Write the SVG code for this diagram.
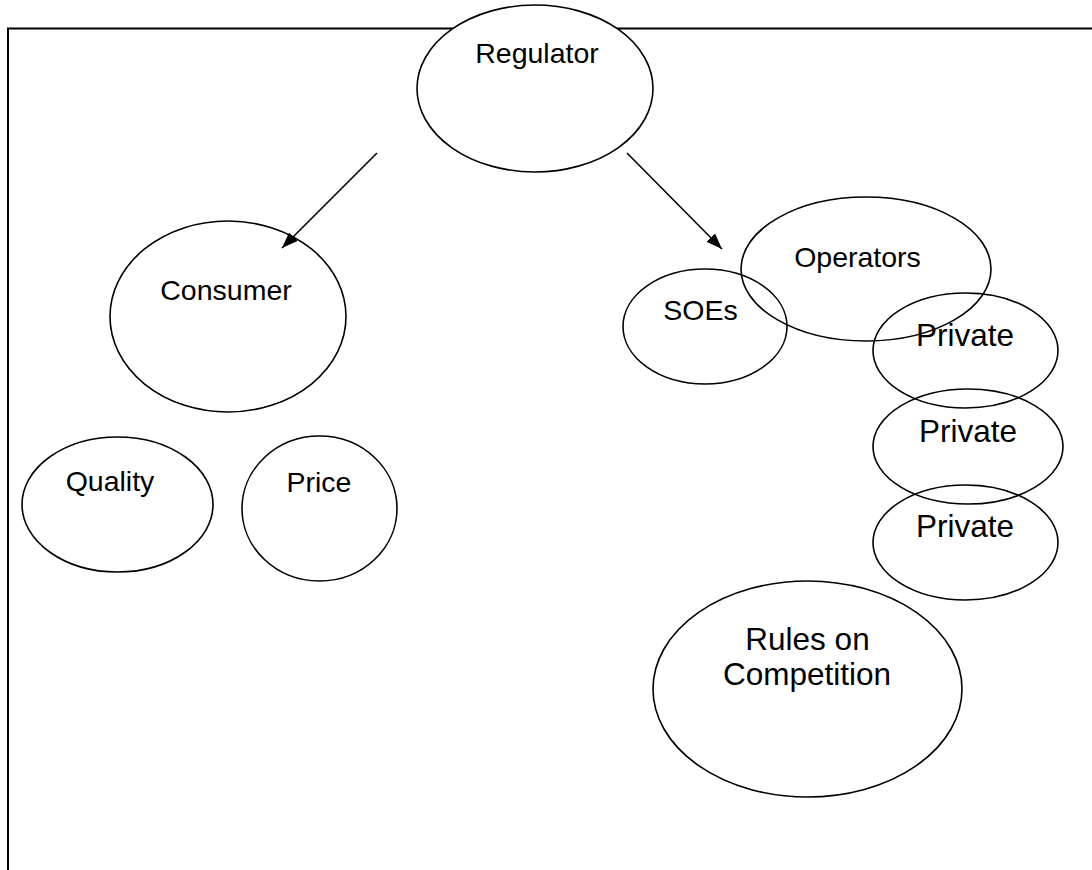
<svg xmlns="http://www.w3.org/2000/svg" width="1092" height="870" viewBox="0 0 1092 870">
<style>
.frame{stroke:#000;stroke-width:2;fill:none}
.node{stroke:#000;stroke-width:1.6;fill:none}
.filled{fill:#fff}
.lbl{font-family:"Liberation Sans",Arial,sans-serif;font-size:28.5px;fill:#000;text-anchor:middle}
.big{font-size:31.5px}
.conn{stroke:#000;stroke-width:1.6;fill:none}
</style>
<defs>
<marker id="arrow" viewBox="0 0 10 10" refX="10" refY="5" markerWidth="10" markerHeight="8" markerUnits="userSpaceOnUse" orient="auto">
<path d="M0,0 L10,5 L0,10 z" fill="#000"/>
</marker>
<marker id="ah" viewBox="0 0 16 12" refX="16" refY="6" markerWidth="16" markerHeight="12" markerUnits="userSpaceOnUse" orient="auto">
<path d="M0,0 L16,6 L0,12 z" fill="#000"/>
</marker>
</defs>
<rect width="1092" height="870" fill="#fff"/>
<g id="frame">
<path class="frame" d="M8,870 L8,28.5 L1092,28.5"/>
</g>
<g id="connectors">
<line class="conn" x1="377" y1="153" x2="282" y2="248" marker-end="url(#ah)"/>
<line class="conn" x1="627" y1="153" x2="722" y2="249" marker-end="url(#ah)"/>
</g>
<g id="regulator">
<ellipse class="node filled" cx="535" cy="88.5" rx="118" ry="83.5"/>
<text class="lbl" x="537" y="63">Regulator</text>
</g>
<g id="consumer">
<ellipse class="node" cx="228" cy="316.5" rx="118" ry="95.5"/>
<text class="lbl" x="226" y="300">Consumer</text>
</g>
<g id="quality">
<ellipse class="node" cx="117.5" cy="504.5" rx="95.5" ry="67.5"/>
<text class="lbl" x="110" y="491">Quality</text>
</g>
<g id="price">
<ellipse class="node" cx="319.5" cy="508.5" rx="77.5" ry="72.5"/>
<text class="lbl" x="319" y="492">Price</text>
</g>
<g id="soes">
<ellipse class="node" cx="705" cy="326.5" rx="82" ry="57.5"/>
<text class="lbl" x="700.5" y="320">SOEs</text>
</g>
<g id="operators">
<ellipse class="node" cx="866" cy="269" rx="125" ry="72"/>
<text class="lbl" x="857.5" y="266.5">Operators</text>
</g>
<g id="private1">
<ellipse class="node" cx="965.5" cy="350.5" rx="92.5" ry="57.5"/>
<text class="lbl big" x="965" y="345.5">Private</text>
</g>
<g id="private2">
<ellipse class="node" cx="968" cy="446.5" rx="95" ry="57.5"/>
<text class="lbl big" x="968" y="441.5">Private</text>
</g>
<g id="private3">
<ellipse class="node" cx="965.5" cy="542.5" rx="92.5" ry="57.5"/>
<text class="lbl big" x="965" y="537">Private</text>
</g>
<g id="rules">
<ellipse class="node" cx="807.5" cy="689" rx="154.5" ry="108"/>
<text class="lbl big" x="807.5" y="650">Rules on</text>
<text class="lbl big" x="807" y="685">Competition</text>
</g>
</svg>
